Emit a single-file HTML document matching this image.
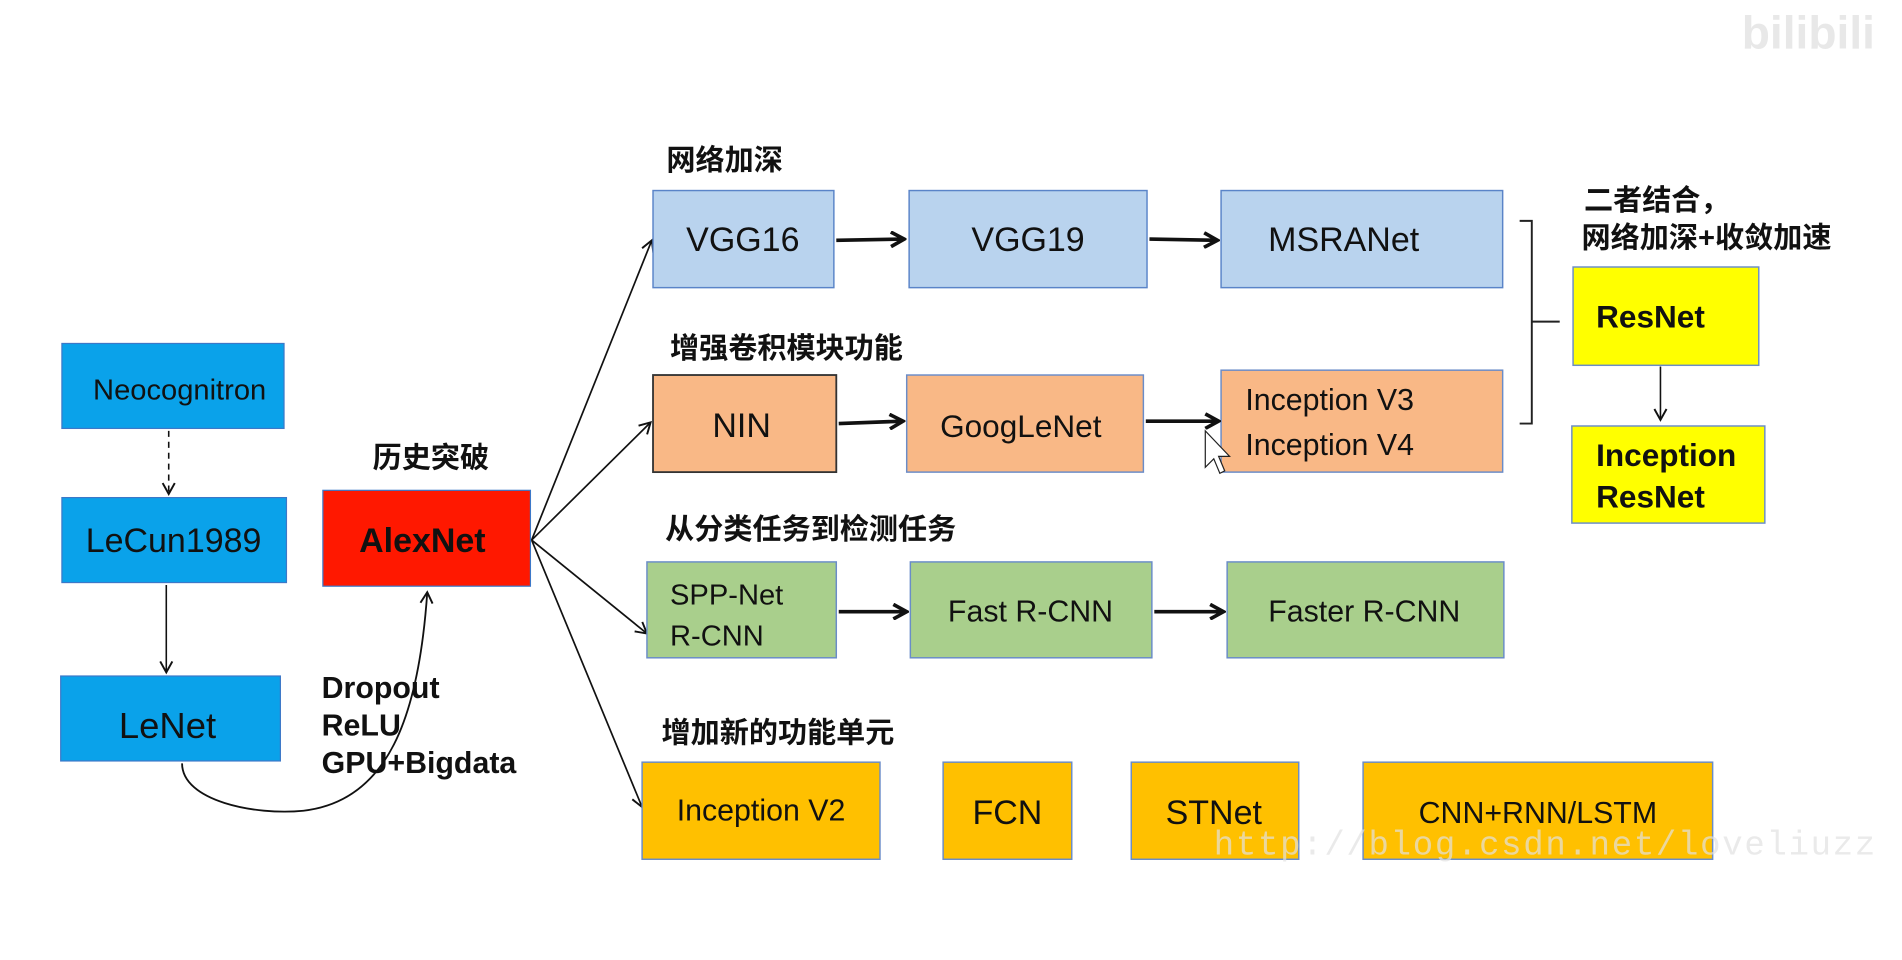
<!DOCTYPE html>
<html><head><meta charset="utf-8"><style>
html,body{margin:0;padding:0;background:#fff;width:1902px;height:960px;overflow:hidden}
svg{display:block}
text{font-family:"Liberation Sans","Noto Sans CJK SC",sans-serif;fill:#111}
.cn{font-weight:bold;font-size:24px}
</style></head><body>
<svg width="1902" height="960" viewBox="0 0 1567 791" preserveAspectRatio="none">
<defs>
<marker id="a" markerWidth="12" markerHeight="12" refX="10" refY="6" orient="auto" markerUnits="userSpaceOnUse"><path d="M1,1 L10,6 L1,11" fill="none" stroke="#111" stroke-width="1.6"/></marker>
<marker id="b" markerWidth="14" markerHeight="14" refX="12" refY="7" orient="auto" markerUnits="userSpaceOnUse"><path d="M1,1 L12,7 L1,13" fill="none" stroke="#111" stroke-width="3"/></marker>
</defs>
<text x="1435" y="40" font-size="38" font-weight="bold" style="fill:#e8e8e8">bilibili</text>
<g stroke="#3c78c8" stroke-width="1">
<rect x="51" y="283" width="183" height="70" fill="#0aa2ea"/>
<rect x="51" y="410" width="185" height="70" fill="#0aa2ea"/>
<rect x="50" y="557" width="181" height="70" fill="#0aa2ea"/>
<rect x="266" y="404" width="171" height="79" fill="#ff1800"/>
</g>
<text x="148" y="329" font-size="24" text-anchor="middle">Neocognitron</text>
<text x="143" y="455" font-size="28" text-anchor="middle">LeCun1989</text>
<text x="138" y="608" font-size="30" text-anchor="middle">LeNet</text>
<text x="348" y="455" font-size="28" font-weight="bold" text-anchor="middle">AlexNet</text>
<text x="355" y="385" class="cn" font-weight="normal" text-anchor="middle">历史突破</text>
<line x1="139" y1="355" x2="139" y2="407" stroke="#111" stroke-width="1.3" stroke-dasharray="5,4" marker-end="url(#a)"/>
<line x1="137" y1="482" x2="137" y2="554" stroke="#111" stroke-width="1.3" marker-end="url(#a)"/>
<path d="M150,629 C150,660 210,672 250,668 C320,660 345,590 352,488" fill="none" stroke="#111" stroke-width="1.5" marker-end="url(#a)"/>
<text x="265" y="575" font-size="25" font-weight="bold">Dropout</text>
<text x="265" y="606" font-size="25" font-weight="bold">ReLU</text>
<text x="265" y="637" font-size="25" font-weight="bold">GPU+Bigdata</text>
<g stroke="#111" stroke-width="1.4" fill="none">
<line x1="438" y1="445" x2="537" y2="198" marker-end="url(#a)"/>
<line x1="438" y1="445" x2="536" y2="348" marker-end="url(#a)"/>
<line x1="438" y1="445" x2="533" y2="522" marker-end="url(#a)"/>
<line x1="438" y1="445" x2="529" y2="665" marker-end="url(#a)"/>
</g>
<text x="549" y="140" class="cn">网络加深</text>
<text x="552" y="295" class="cn">增强卷积模块功能</text>
<text x="548" y="444" class="cn">从分类任务到检测任务</text>
<text x="545" y="612" class="cn">增加新的功能单元</text>
<g stroke="#5a84c8" stroke-width="1.2" fill="#b9d3ee">
<rect x="538" y="157" width="149" height="80"/>
<rect x="749" y="157" width="196" height="80"/>
<rect x="1006" y="157" width="232" height="80"/>
</g>
<g font-size="28" text-anchor="middle">
<text x="612" y="207">VGG16</text><text x="847" y="207">VGG19</text><text x="1107" y="207">MSRANet</text>
</g>
<g stroke="#6a8cc8" stroke-width="1.2" fill="#f9b886">
<rect x="538" y="309" width="151" height="80" stroke="#333" stroke-width="1.5"/>
<rect x="747" y="309" width="195" height="80"/>
<rect x="1006" y="305" width="232" height="84"/>
</g>
<text x="611" y="360" font-size="28" text-anchor="middle">NIN</text>
<text x="841" y="360" font-size="26" text-anchor="middle">GoogLeNet</text>
<text x="1026" y="338" font-size="25">Inception V3</text>
<text x="1026" y="375" font-size="25">Inception V4</text>
<g stroke="#6a8cc8" stroke-width="1.2" fill="#a9cf8c">
<rect x="533" y="463" width="156" height="79"/>
<rect x="750" y="463" width="199" height="79"/>
<rect x="1011" y="463" width="228" height="79"/>
</g>
<text x="552" y="498" font-size="24">SPP-Net</text>
<text x="552" y="532" font-size="24">R-CNN</text>
<text x="849" y="512" font-size="25" text-anchor="middle">Fast R-CNN</text>
<text x="1124" y="512" font-size="25" text-anchor="middle">Faster R-CNN</text>
<g stroke="#6a8cc8" stroke-width="1.2" fill="#ffc000">
<rect x="529" y="628" width="196" height="80"/>
<rect x="777" y="628" width="106" height="80"/>
<rect x="932" y="628" width="138" height="80"/>
<rect x="1123" y="628" width="288" height="80"/>
</g>
<text x="627" y="676" font-size="25" text-anchor="middle">Inception V2</text>
<text x="830" y="679" font-size="28" text-anchor="middle">FCN</text>
<text x="1000" y="679" font-size="28" text-anchor="middle">STNet</text>
<text x="1267" y="678" font-size="25" text-anchor="middle">CNN+RNN/LSTM</text>
<text x="1000" y="704" font-size="28" style="fill:#e2e2e2;font-family:'Liberation Mono',monospace" opacity="0.7" textLength="545">http://blog.csdn.net/loveliuzz</text>
<g stroke="#111" stroke-width="3" fill="none">
<line x1="689" y1="198" x2="745" y2="197" marker-end="url(#b)"/>
<line x1="947" y1="197" x2="1003" y2="198" marker-end="url(#b)"/>
<line x1="691" y1="349" x2="744" y2="347" marker-end="url(#b)"/>
<line x1="944" y1="347" x2="1004" y2="347" marker-end="url(#b)"/>
<line x1="691" y1="504" x2="747" y2="504" marker-end="url(#b)"/>
<line x1="951" y1="504" x2="1008" y2="504" marker-end="url(#b)"/>
</g>
<path d="M993,355 L993,385 L1000,378 L1005,390 L1009,388 L1004,376 L1013,376 Z" fill="#fff" stroke="#222" stroke-width="1"/>
<path d="M1252,182 L1262,182 L1262,349 L1252,349 M1262,265 L1285,265" fill="none" stroke="#222" stroke-width="1.6"/>
<text x="1305" y="173" class="cn">二者结合，</text>
<text x="1303" y="204" class="cn">网络加深+收敛加速</text>
<g stroke="#6a8cc8" stroke-width="1.2" fill="#ffff00">
<rect x="1296" y="220" width="153" height="81"/>
<rect x="1295" y="351" width="159" height="80"/>
</g>
<text x="1315" y="270" font-size="26" font-weight="bold">ResNet</text>
<text x="1315" y="384" font-size="26" font-weight="bold">Inception</text>
<text x="1315" y="418" font-size="26" font-weight="bold">ResNet</text>
<line x1="1368" y1="302" x2="1368" y2="346" stroke="#111" stroke-width="1.3" marker-end="url(#a)"/>
</svg>
</body></html>
